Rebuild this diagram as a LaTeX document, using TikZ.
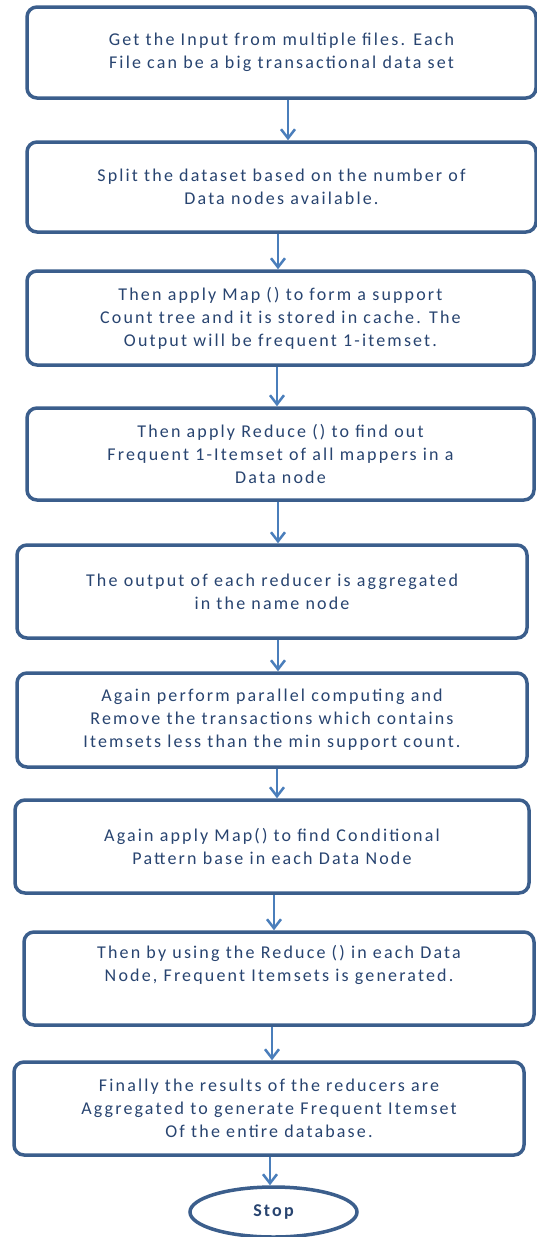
\documentclass[tikz,border=0pt]{standalone}
\usepackage{fontspec}
\setmainfont{Carlito}
\newfontfamily\boxfont[LetterSpace=12]{Carlito}
\usetikzlibrary{arrows.meta,shapes.geometric}
\definecolor{boxline}{HTML}{3B5E8C}
\definecolor{arrowblue}{HTML}{4A7EBB}
\definecolor{txtblue}{HTML}{284470}
\begin{document}
\begin{tikzpicture}[x=1pt,y=-1pt,
  stepbox/.style={draw=boxline, line width=3.5pt, rounded corners=10pt,
    fill=white, align=center, inner sep=0pt, text=txtblue,
    font=\boxfont\fontsize{18}{23}\selectfont},
  endbox/.style={draw=boxline, line width=3.5pt, ellipse, fill=white,
    inner sep=0pt, text=txtblue, font=\boxfont\fontsize{18}{23}\selectfont\bfseries},
  flow/.style={draw=arrowblue, line width=2.5pt,
    -{Straight Barb[length=9pt,width=14pt,line width=2.5pt]}}]
\useasboundingbox (0,0) rectangle (537,1237);
\fill[white] (0,0) rectangle (537,1237);

\node[stepbox, minimum width=509pt, minimum height=91pt] (b1) at (281.5,52.5)
  {Get the Input from multiple files. Each\\File can be a big transactional data set};
\node[stepbox, minimum width=509pt, minimum height=90pt] (b2) at (281.5,187)
  {Split the dataset based on the number of\\Data nodes available.};
\node[stepbox, minimum width=507pt, minimum height=94pt] (b3) at (280.5,318)
  {Then apply Map () to form a support\\Count tree and it is stored in cache. The\\Output will be frequent 1-itemset.};
\node[stepbox, minimum width=507pt, minimum height=92pt] (b4) at (280.5,454)
  {Then apply Reduce () to find out\\Frequent 1-Itemset of all mappers in a\\Data node};
\node[stepbox, minimum width=510pt, minimum height=93pt] (b5) at (272,591.5)
  {The output of each reducer is aggregated\\in the name node};
\node[stepbox, minimum width=510pt, minimum height=94pt] (b6) at (272,720)
  {Again perform parallel computing and\\Remove the transactions which contains\\Itemsets less than the min support count.};
\node[stepbox, minimum width=514pt, minimum height=93pt] (b7) at (272,846.5)
  {Again apply Map() to find Conditional\\Pattern base in each Data Node};
\node[stepbox, minimum width=510pt, minimum height=93pt] (b8) at (279,978.5)
  {Then by using the Reduce () in each Data\\Node, Frequent Itemsets is generated.\\\strut};
\node[stepbox, minimum width=510pt, minimum height=93pt] (b9) at (269,1108.5)
  {Finally the results of the reducers are\\Aggregated to generate Frequent Itemset\\Of the entire database.};
\node[endbox, minimum width=167pt, minimum height=50pt] (stop) at (273.5,1212) {Stop};

% connectors, each a little off the box centre line
\draw[flow] ([xshift=6.5pt]b1.south) -- ([xshift=6.5pt]b2.north);
\draw[flow] ([xshift=-3.5pt]b2.south) -- ([xshift=-2.5pt]b3.north);
\draw[flow] ([xshift=-3.5pt]b3.south) -- ([xshift=-3.5pt]b4.north);
\draw[flow] ([xshift=-2.5pt]b4.south) -- ([xshift=6pt]b5.north);
\draw[flow] ([xshift=6pt]b5.south) -- ([xshift=6pt]b6.north);
\draw[flow] ([xshift=5pt]b6.south) -- ([xshift=5pt]b7.north);
\draw[flow] ([xshift=2pt]b7.south) -- ([xshift=-5pt]b8.north);
\draw[flow] ([xshift=-7pt]b8.south) -- ([xshift=3pt]b9.north);
\draw[flow] ([xshift=1pt]b9.south) -- ([xshift=-3.5pt]stop.north);
\end{tikzpicture}
\end{document}
